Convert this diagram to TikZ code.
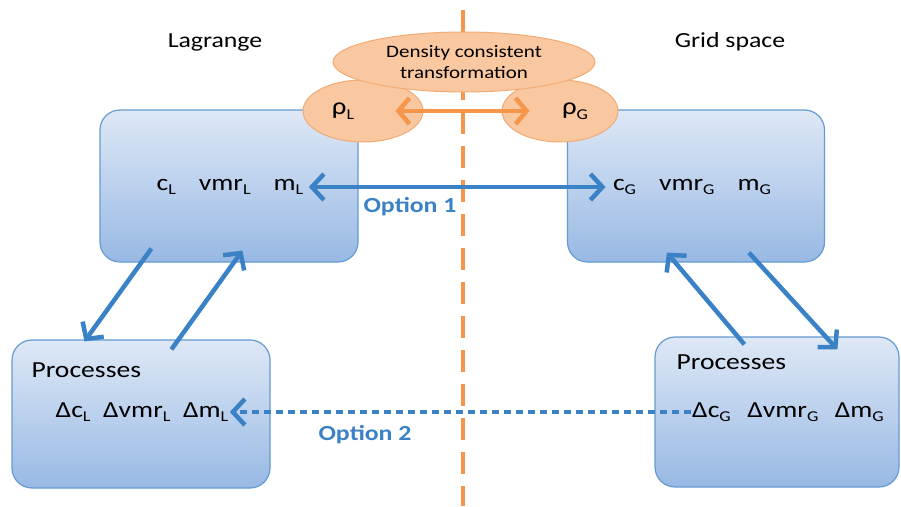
\documentclass[tikz,border=0pt]{standalone}
\usepackage{fontspec}
\setmainfont{Carlito}[FakeStretch=1.2]
\usetikzlibrary{arrows.meta, positioning, shapes.geometric}
\definecolor{boxline}{RGB}{100,155,210}
\definecolor{boxtop}{RGB}{222,232,246}
\definecolor{boxbottom}{RGB}{152,185,228}
\definecolor{flowblue}{RGB}{58,130,197}
\definecolor{densline}{RGB}{242,170,115}
\definecolor{densfill}{RGB}{249,199,160}
\definecolor{divide}{RGB}{245,150,75}
\newcommand{\lo}[1]{\raisebox{-0.4ex}{\fontsize{15}{15}\selectfont #1}}

\begin{document}
\begin{tikzpicture}[x=1pt, y=-1pt,
  varbox/.style={draw=boxline, line width=1.2pt, rounded corners=20pt,
                 top color=boxtop, bottom color=boxbottom, inner sep=0pt},
  blob/.style={ellipse, draw=densline, fill=densfill, line width=1pt, inner sep=0pt},
  flow/.style={flowblue, line width=4.5pt, -{Straight Barb[length=12pt, width=26pt]}},
  big/.style={font=\fontsize{23}{26}\selectfont},
  optlbl/.style={font=\fontsize{21.5}{24}\selectfont\bfseries, text=flowblue}]

\useasboundingbox (0,0) rectangle (901,506);

% Headings
\node[font=\fontsize{21.5}{24}\selectfont] (lag) at (215,42) {Lagrange};
\node[font=\fontsize{21.5}{24}\selectfont] (grid) at (730,42) {Grid space};

% Boxes
\node[varbox, minimum width=258pt, minimum height=152pt] (ltop) at (229,186) {};
\node[varbox, minimum width=257pt, minimum height=152pt] (rtop) at (696,186) {};
\node[varbox, minimum width=258pt, minimum height=148pt] (lbot) at (141,414) {};
\node[varbox, minimum width=244pt, minimum height=150pt] (rbot) at (777,412) {};

% Density transformation
\node[blob, minimum width=120pt, minimum height=62pt, font=\fontsize{24}{26}\selectfont] (rhoL) at (363,111) {ρ\lo{L}\hspace*{40pt}};
\node[blob, minimum width=116pt, minimum height=62pt, font=\fontsize{24}{26}\selectfont] (rhoG) at (560,111) {\hspace*{30pt}ρ\lo{G}};
\draw[divide, line width=4.5pt, {Straight Barb[length=11pt, width=26pt]}-{Straight Barb[length=11pt, width=26pt]}]
  ([xshift=-28pt]rhoL.east) -- ([xshift=28pt]rhoG.west);
\draw[divide, line width=4.5pt, dash pattern=on 22pt off 12pt] (463,10) -- (463,506);
\node[blob, minimum width=262pt, minimum height=60pt, align=center,
      font=\fontsize{17.5}{21}\selectfont] (dens) at (464,62) {Density consistent\\transformation};

% Variables
\node[big] (lvars) at (230,187) {c\lo{L}\quad vmr\lo{L}\quad m\lo{L}};
\node[big] (rvars) at (692,187) {c\lo{G}\quad vmr\lo{G}\quad m\lo{G}};
\node[big, anchor=west] (lproc) at (28,370) {Processes};
\node[big] (ldelta) at (142,412) {Δc\lo{L}\; Δvmr\lo{L}\; Δm\lo{L}};
\node[big, anchor=west] (rproc) at (673,362) {Processes};
\node[big] (rdelta) at (788,412) {Δc\lo{G}\;\, Δvmr\lo{G}\;\, Δm\lo{G}};

% Option 1
\draw[flow, {Straight Barb[length=12pt, width=26pt]}-{Straight Barb[length=12pt, width=26pt]}]
  ([xshift=2pt]lvars.east) -- ([xshift=-4pt]rvars.west);
\node[optlbl] (opt1) at (410,207) {Option 1};

% Lagrange cycle
\draw[flow] ([xshift=52pt, yshift=14pt]ltop.south west) -- ([xshift=73pt, yshift=-2pt]lbot.north west);
\draw[flow] ([xshift=160pt, yshift=-10pt]lbot.north west) -- ([xshift=143pt, yshift=12pt]ltop.south west);

% Grid cycle
\draw[flow] ([xshift=90pt, yshift=-8pt]rbot.north west) -- ([xshift=100pt, yshift=10pt]rtop.south west);
\draw[flow] ([xshift=182pt, yshift=10pt]rtop.south west) -- ([xshift=183pt, yshift=-13pt]rbot.north west);

% Option 2
\draw[flow, dash pattern=on 7pt off 5pt] ([xshift=2pt]rdelta.west) -- ([xshift=-2pt]ldelta.east);
\node[optlbl] (opt2) at (365,435) {Option 2};

\end{tikzpicture}
\end{document}
